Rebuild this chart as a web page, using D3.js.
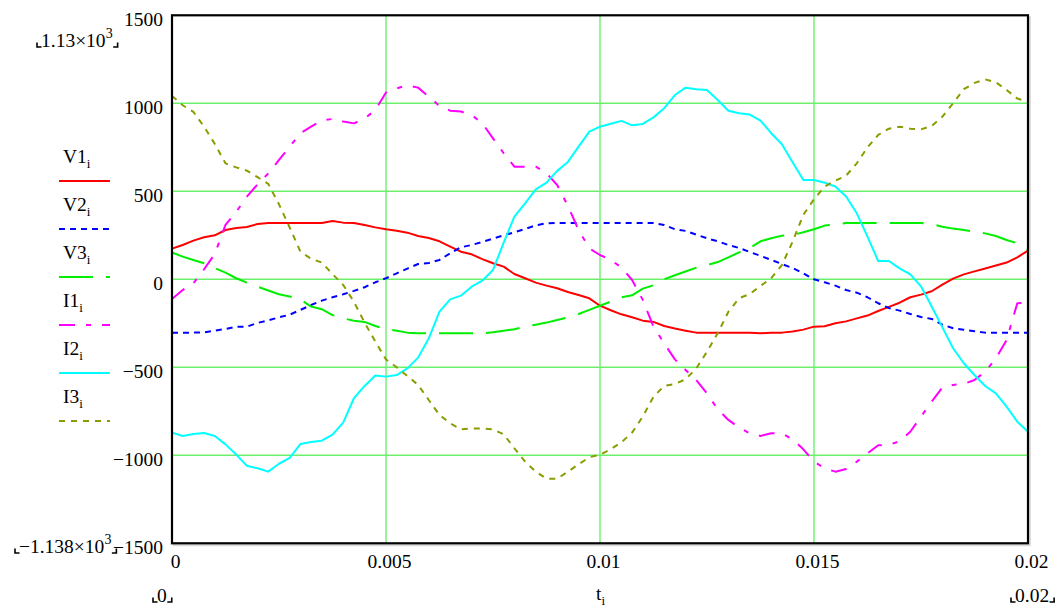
<!DOCTYPE html>
<html>
<head>
<meta charset="utf-8">
<script src="https://cdn.jsdelivr.net/npm/d3@7"></script>
<style>
  html, body { margin: 0; padding: 0; background: #ffffff; }
  svg { display: block; }
  text { font-family: "Liberation Serif", "Times New Roman", serif; fill: #000; }
</style>
</head>
<body>
<svg id="chart" width="1060" height="608"></svg>
<script>
// Sample grid: t from 0 to 0.02 s in steps of 0.25 ms
const tStep = 0.00025;
const sampleCount = 81;

// Phase voltages
const V1 = [174,195,220,239,250,280,292,297,314,320, 320,320,320,320,320,331,322,320,309,295,
  284,276,265,246,235,216,186,157,142,115, 91,72,30,6,-19,-36,-51,-72,-89,-108,
  -150,-176,-199,-216,-235,-242,-265,-280,-292,-303, -303,-303,-303,-303,-303,-307,-303,-303,-297,-286,
  -269,-267,-250,-239,-222,-206,-180,-157,-133,-102, -87,-68,-30,4,28,45,61,78,95,125,
  163];
const V2 = [-303,-303,-303,-301,-292,-282,-269,-269,-248,-233, -216,-201,-174,-146,-121,-102,-85,-66,-45,-17,
  6,34,61,87,93,110,148,182,195,212, 231,250,267,286,307,318,320,320,320,320,
  320,320,320,320,320,320,309,284,275,254, 233,216,195,178,155,133,110,87,64,34,
  0,-17,-36,-61,-76,-102,-136,-163,-178,-197, -214,-225,-258,-278,-286,-295,-303,-303,-303,-303,
  -303];
const V3 = [152,129,110,91,64,38,6,-19,-42,-64, -85,-98,-114,-155,-170,-203,-222,-235,-242,-265,
  -284,-292,-303,-307,-307,-307,-307,-307,-307,-307, -301,-292,-284,-269,-258,-246,-231,-216,-197,-174,
  -150,-127,-102,-91,-53,-34,0,23,44,66, 81,98,125,153,178,216,233,248,252,267,
  284,305,311,320,320,320,320,320,320,320, 320,313,299,288,280,271,261,246,223,205,
  170];

// Phase currents
const I1 = [-112,-61,-23,57,144,309,383,470,540,602, 678,754,830,867,902,911,896,886,913,962,
  1061,1085,1102,1089,1038,985,958,953,934,886, 801,716,640,640,640,602,536,417,280,176,
  138,110,68,-4,-117,-269,-364,-455,-515,-572, -648,-739,-799,-843,-875,-890,-875,-875,-909,-966,
  -1036,-1074,-1093,-1078,-1036,-989,-943,-941,-920,-866, -780,-695,-614,-600,-595,-572,-525,-449,-345,-136,
  -133];
const I2 = [-871,-890,-879,-873,-890,-938,-996,-1059,-1074,-1093, -1048,-1015,-936,-924,-917,-883,-814,-676,-606,-547,
  -553,-544,-506,-445,-335,-184,-114,-93,-42,-8, 53,208,356,432,511,549,616,667,754,839,
  867,884,900,875,883,920,972,1047,1089,1080, 1076,1019,958,943,936,902,830,767,665,564,
  564,549,527,470,375,242,104,104,62,28, -40,-155,-273,-392,-477,-544,-606,-648,-723,-809,
  -866];
const I3 = [1042,989,951,867,769,659,636,617,580,542, 426,294,157,117,95,30,-32,-127,-246,-354,
  -455,-500,-549,-600,-686,-771,-818,-852,-848,-847, -852,-881,-960,-1036,-1093,-1133,-1133,-1093,-1051,-1011,
  -996,-966,-926,-871,-780,-667,-606,-595,-568,-506, -411,-307,-184,-108,-83,-38,6,81,214,366,
  455,527,561,589,659,750,820,856,867,856, 852,871,924,1000,1080,1116,1136,1119,1076,1027,
  1009];

// Axis ticks and range labels
const yTicks = [-1500, -1000, -500, 0, 500, 1000, 1500];
const xTicks = [0, 0.005, 0.01, 0.015, 0.02];
const xTickLabels = ["0", "0.005", "0.01", "0.015", "0.02"];
const yGrid = [-1000, -500, 0, 500, 1000];
const xGrid = [0.005, 0.01, 0.015];
const seriesNames = ["V1", "V2", "V3", "I1", "I2", "I3"];

const times = d3.range(sampleCount).map(i => i * tStep);

const styles = [
  { color: "#ff0000", dash: null },
  { color: "#0000ff", dash: "6,5" },
  { color: "#00ee00", dash: "34,13" },
  { color: "#ff00ff", dash: "16,11,5,11" },
  { color: "#00ffff", dash: null },
  { color: "#8c9c00", dash: "6,6" }
];
const seriesData = [V1, V2, V3, I1, I2, I3];

const svg = d3.select("#chart");
const FS = 19.5;

const x = d3.scaleLinear().domain([0, 0.02]).range([172, 1028]);
const y = d3.scaleLinear().domain([-1500, 1500]).range([543.3, 15.3]);

// soft shadow of the plot frame
svg.append("rect")
  .attr("x", x(0) + 2).attr("y", y(1500) + 2)
  .attr("width", x(0.02) - x(0)).attr("height", y(-1500) - y(1500))
  .attr("fill", "none").attr("stroke", "#dcdcdc").attr("stroke-width", 2);

svg.append("rect")
  .attr("x", x(0)).attr("y", y(1500))
  .attr("width", x(0.02) - x(0)).attr("height", y(-1500) - y(1500))
  .attr("fill", "#ffffff");

// grid
const grid = svg.append("g").attr("stroke", "#6cf06c").attr("stroke-width", 1.4);
grid.selectAll("line.h").data(yGrid).join("line")
  .attr("x1", x(0)).attr("x2", x(0.02))
  .attr("y1", d => y(d)).attr("y2", d => y(d));
grid.selectAll("line.v").data(xGrid).join("line")
  .attr("y1", y(1500)).attr("y2", y(-1500))
  .attr("x1", d => x(d)).attr("x2", d => x(d));

// curves
const line = d3.line()
  .x((d, i) => x(times[i]))
  .y(d => y(d));

const plot = svg.append("g");
seriesData.forEach((vals, k) => {
  plot.append("path")
    .datum(vals)
    .attr("d", line)
    .attr("fill", "none")
    .attr("stroke", styles[k].color)
    .attr("stroke-width", 2)
    .attr("stroke-dasharray", styles[k].dash)
    .attr("stroke-linejoin", "round");
});

// frame
svg.append("rect")
  .attr("x", x(0)).attr("y", y(1500))
  .attr("width", x(0.02) - x(0)).attr("height", y(-1500) - y(1500))
  .attr("fill", "none").attr("stroke", "#000").attr("stroke-width", 2.2);

// y axis labels
const fmtY = d => (d < 0 ? "\u2212" : "") + Math.abs(d);
const yAxis = svg.append("g")
  .attr("transform", `translate(${x(0)},0)`)
  .call(d3.axisLeft(y).tickValues(yTicks).tickSize(0).tickPadding(9).tickFormat(fmtY));
yAxis.select(".domain").remove();
yAxis.selectAll("text")
  .attr("dy", "0.52em")
  .style("font-family", "'Liberation Serif', serif")
  .style("font-size", FS + "px")
  .attr("fill", "#000");

// x axis labels
const xAxis = svg.append("g")
  .attr("transform", `translate(3,${y(-1500)})`)
  .call(d3.axisBottom(x).tickValues(xTicks).tickSize(0).tickPadding(11)
    .tickFormat((d, i) => xTickLabels[i]));
xAxis.select(".domain").remove();
xAxis.selectAll("text")
  .style("font-family", "'Liberation Serif', serif")
  .style("font-size", FS + "px")
  .attr("fill", "#000");

// small corner brackets around range markers
function corner(g, cx, cy, side) {
  const s = 4.5;
  const d = side === "left"
    ? `M${cx},${cy - s}V${cy}H${cx + s}`
    : `M${cx - s},${cy}H${cx}V${cy - s}`;
  g.append("path").attr("d", d).attr("fill", "none")
    .attr("stroke", "#000").attr("stroke-width", 1.6);
}

function rangeLabel(xStart, baseline, mainText, supText) {
  const g = svg.append("g");
  const t = g.append("text")
    .attr("x", xStart).attr("y", baseline)
    .style("font-size", FS + "px");
  t.append("tspan").text(mainText);
  if (supText) {
    t.append("tspan").attr("dy", -9).style("font-size", "14px").text(supText);
  }
  const w = t.node().getComputedTextLength();
  corner(g, xStart - 4, baseline, "left");
  corner(g, xStart + w + 5, baseline, "right");
  return g;
}

rangeLabel(41, 47, "1.13\u00d710", "3");
rangeLabel(19, 553, "\u22121.138\u00d710", "3");
rangeLabel(157, 602, "0", null);
rangeLabel(1015, 602, "0.02", null);

// x variable name
const tLabel = svg.append("text")
  .attr("x", 596).attr("y", 600)
  .style("font-size", FS + "px");
tLabel.append("tspan").text("t");
tLabel.append("tspan").attr("dy", 5).style("font-size", "13px").text("i");

// legend
const legend = svg.append("g");
seriesNames.forEach((name, k) => {
  const base = 163 + k * 48;
  const lt = legend.append("text")
    .attr("x", 63).attr("y", base)
    .style("font-size", FS + "px");
  lt.append("tspan").text(name);
  lt.append("tspan").attr("dy", 5).style("font-size", "13px").text("i");
  legend.append("line")
    .attr("x1", 59).attr("x2", 110)
    .attr("y1", base + 18).attr("y2", base + 18)
    .attr("stroke", styles[k].color)
    .attr("stroke-width", 2)
    .attr("stroke-dasharray", styles[k].dash);
});
</script>
</body>
</html>
